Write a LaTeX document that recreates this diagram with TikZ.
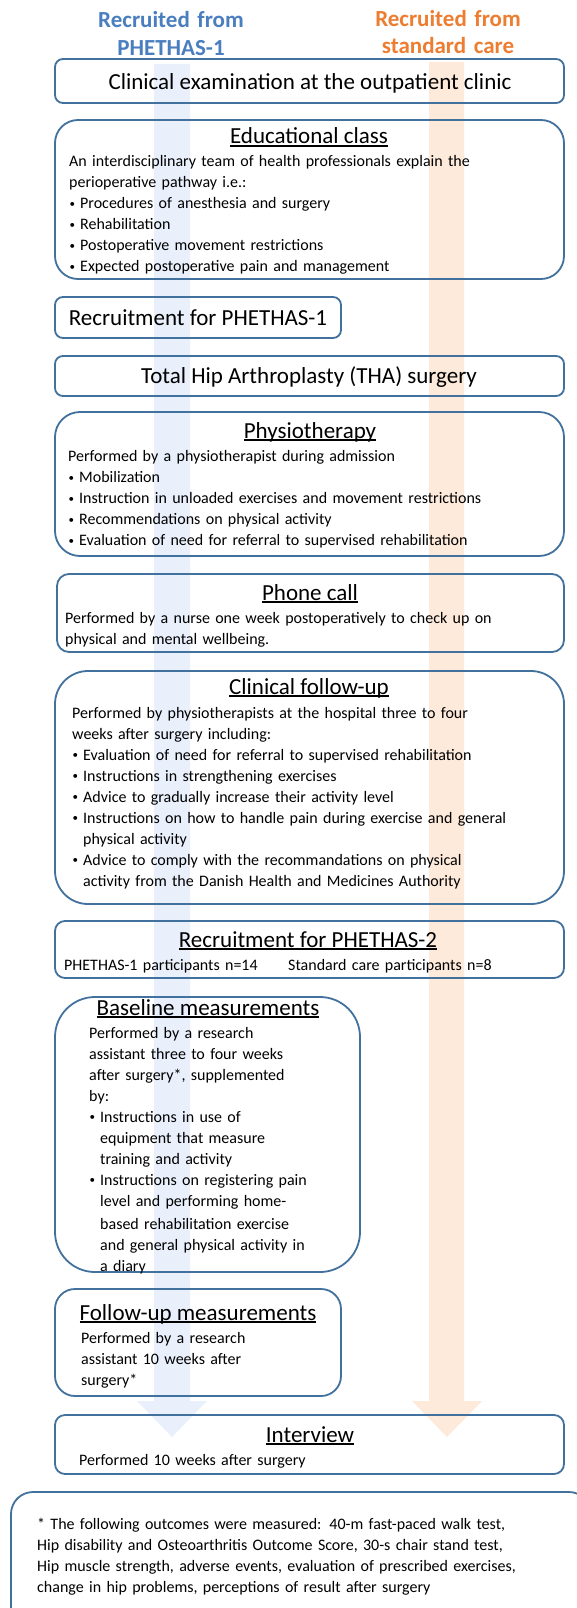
\documentclass[tikz,border=0pt]{standalone}
\usepackage{fontspec}
\setmainfont{Carlito}
\definecolor{bordercol}{RGB}{65,113,156}
\definecolor{hdrblue}{RGB}{74,126,190}
\definecolor{hdrorange}{RGB}{237,125,49}
\definecolor{colblue}{RGB}{233,240,251}
\definecolor{colorange}{RGB}{253,234,219}
\newcommand\myul[1]{\setbox0\hbox{#1}\rlap{\rule[-2.6pt]{\wd0}{1.3pt}}\box0}
\newcommand\bul{\makebox[11pt][l]{\hspace{0.5pt}\raisebox{1.2pt}{\fontsize{11}{11}\selectfont •}}}
\newcommand\hang{\hspace*{11pt}}
\begin{document}
\begin{tikzpicture}[x=1pt,y=-1pt,
  frame/.style={draw=bordercol, line width=1.8pt, inner sep=0pt, outer sep=0pt, anchor=north west},
  ttl/.style={font=\fontsize{23}{28}\selectfont, anchor=base, inner sep=0pt},
  txt/.style={font=\fontsize{16}{21}\selectfont, anchor=base west, inner sep=0pt, align=left, text width=530pt},
  hdr/.style={font=\bfseries\fontsize{23}{28}\selectfont, anchor=base, inner sep=0pt, align=center, text width=220pt}
]
\useasboundingbox (0,0) rectangle (576,1608);
\fill[white] (0,0) rectangle (576,1608);
% background arrows
\fill[colblue] (154,64) -- (190,64) -- (190,1401) -- (207,1401) -- (172,1437) -- (137,1401) -- (154,1401) -- cycle;
\fill[colorange] (429,62) -- (464,62) -- (464,1401) -- (482,1401) -- (447,1437) -- (412,1401) -- (429,1401) -- cycle;
% headers
\node[hdr, text=hdrblue] (hb) at (171,28) {Recruited from\\PHETHAS-1};
\node[hdr, text=hdrorange, font=\bfseries\fontsize{23}{27}\selectfont] (ho) at (448,27) {Recruited from\\standard care};
% box 1
\node[frame, rounded corners=8pt, minimum width=509pt, minimum height=44pt] (b1) at (55,59) {};
\node[ttl] (t1) at (310,89.5) {Clinical examination at the outpatient clinic};
% box 2
\node[frame, rounded corners=23pt, minimum width=509pt, minimum height=159pt] (b2) at (55,120) {};
\node[ttl] (t2) at (309,144) {\myul{Educational class}};
\node[txt] (x2) at (69,167) {An interdisciplinary team of health professionals explain the\\
perioperative pathway i.e.:\\
\bul Procedures of anesthesia and surgery\\
\bul Rehabilitation\\
\bul Postoperative movement restrictions\\
\bul Expected postoperative pain and management};
% box 3
\node[frame, rounded corners=8pt, minimum width=286pt, minimum height=41pt] (b3) at (55,297) {};
\node[ttl] (t3) at (198,325) {Recruitment for PHETHAS-1};
% box 4
\node[frame, rounded corners=8pt, minimum width=509pt, minimum height=40pt] (b4) at (55,356) {};
\node[ttl] (t4) at (309,383) {Total Hip Arthroplasty (THA) surgery};
% box 5
\node[frame, rounded corners=25pt, minimum width=509pt, minimum height=144pt] (b5) at (55,412) {};
\node[ttl] (t5) at (310,438) {\myul{Physiotherapy}};
\node[txt, font=\fontsize{16}{21.2}\selectfont] (x5) at (68,461) {Performed by a physiotherapist during admission\\
\bul Mobilization\\
\bul Instruction in unloaded exercises and movement restrictions\\
\bul Recommendations on physical activity\\
\bul Evaluation of need for referral to supervised rehabilitation};
% box 6
\node[frame, rounded corners=12pt, minimum width=507pt, minimum height=78pt] (b6) at (57,574) {};
\node[ttl] (t6) at (310,600) {\myul{Phone call}};
\node[txt] (x6) at (65,623.3) {Performed by a nurse one week postoperatively to check up on\\
physical and mental wellbeing.};
% box 7
\node[frame, rounded corners=33pt, minimum width=509pt, minimum height=233pt] (b7) at (55,671) {};
\node[ttl] (t7) at (309,694) {\myul{Clinical follow-up}};
\node[txt] (x7) at (72,718) {Performed by physiotherapists at the hospital three to four\\
weeks after surgery including:\\
\bul Evaluation of need for referral to supervised rehabilitation\\
\bul Instructions in strengthening exercises\\
\bul Advice to gradually increase their activity level\\
\bul Instructions on how to handle pain during exercise and general\\
\hang physical activity\\
\bul Advice to comply with the recommandations on physical\\
\hang activity from the Danish Health and Medicines Authority};
% box 8
\node[frame, rounded corners=10pt, minimum width=509pt, minimum height=57pt] (b8) at (55,921) {};
\node[ttl] (t8) at (308,947) {\myul{Recruitment for PHETHAS-2}};
\node[txt, text width=220pt] (x8a) at (64,970) {PHETHAS-1 participants n=14};
\node[txt, text width=260pt] (x8b) at (288,970) {Standard care participants n=8};
% box 9
\node[frame, rounded corners=40pt, minimum width=305pt, minimum height=275pt] (b9) at (55,997) {};
\node[ttl] (t9) at (208,1015) {\myul{Baseline measurements}};
\node[txt, text width=300pt] (x9) at (89,1038) {Performed by a research\\
assistant three to four weeks\\
after surgery*, supplemented\\
by:\\
\bul Instructions in use of\\
\hang equipment that measure\\
\hang training and activity\\
\bul Instructions on registering pain\\
\hang level and performing home-\\[2pt]
\hang based rehabilitation exercise\\
\hang and general physical activity in\\
\hang a diary};
% box 10
\node[frame, rounded corners=20pt, minimum width=286pt, minimum height=107pt] (b10) at (55,1289) {};
\node[ttl] (t10) at (198,1320) {\myul{Follow-up measurements}};
\node[txt, text width=260pt] (x10) at (81,1343.3) {Performed by a research\\
assistant 10 weeks after\\
surgery*};
% box 11
\node[frame, rounded corners=10pt, minimum width=509pt, minimum height=59pt] (b11) at (55,1415) {};
\node[ttl] (t11) at (310,1442) {\myul{Interview}};
\node[txt] (x11) at (79,1465) {Performed 10 weeks after surgery};
% box 12
\node[frame, rounded corners=22pt, minimum width=580pt, minimum height=150pt] (b12) at (11,1492) {};
\node[txt] (x12) at (37,1529) {* The following outcomes were measured: 40-m fast-paced walk test,\\
Hip disability and Osteoarthritis Outcome Score, 30-s chair stand test,\\
Hip muscle strength, adverse events, evaluation of prescribed exercises,\\
change in hip problems, perceptions of result after surgery};
\end{tikzpicture}
\end{document}
